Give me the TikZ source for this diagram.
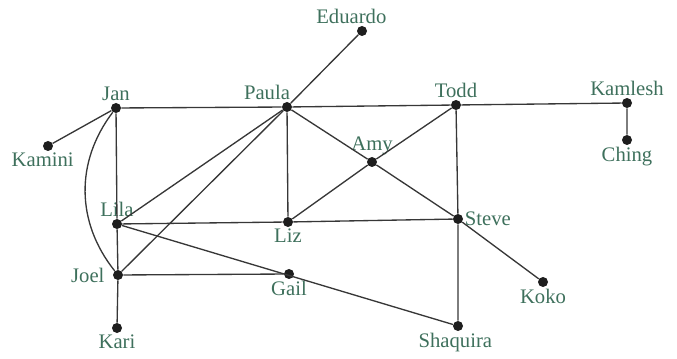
\documentclass[tikz,border=0pt]{standalone}
\usepackage{fontspec}
\setmainfont{Liberation Serif}
\begin{document}
\begin{tikzpicture}[x=0.75pt,y=-0.75pt,
    person/.style={circle,fill=dotgray,inner sep=0pt,minimum size=7.5pt},
    kante/.style={draw=linegray,line width=1pt},
    every label/.style={text=namegreen,inner sep=1pt,
        font=\fontsize{15.5}{17}\selectfont},
    blass/.style={every label/.append style={text=palegreen}}]

    % Farben
    \definecolor{namegreen}{RGB}{62,112,92}
    \definecolor{palegreen}{RGB}{112,160,140}
    \definecolor{dotgray}{RGB}{30,30,30}
    \definecolor{linegray}{RGB}{55,55,55}

    % Rahmen
    \useasboundingbox (0,0) rectangle (677,359);

    % Personen
    \node[person,label={[xshift=-8pt]above:Eduardo}] (eduardo) at (362,31) {};
    \node[person,label={above:Jan}]                  (jan)     at (116,108) {};
    \node[person,label={[xshift=-15pt]above:Paula}]  (paula)   at (287,107) {};
    \node[person,label={above:Todd}]                 (todd)    at (456,105) {};
    \node[person,blass,label={above:Kamlesh}]        (kamlesh) at (627,103) {};
    \node[person,blass,label={below:Ching}]          (ching)   at (627,140) {};
    \node[person,label={[xshift=-4pt]below:Kamini}]  (kamini)  at (48,146) {};
    \node[person,label={above:Amy}]                  (amy)     at (372,162) {};
    \node[person,label={above:Lila}]                 (lila)    at (117,224) {};
    \node[person,label={below:Liz}]                  (liz)     at (288,222) {};
    \node[person,label={right:Steve}]                (steve)   at (458,219) {};
    \node[person,label={[xshift=-5pt]left:Joel}]     (joel)    at (118,275) {};
    \node[person,label={below:Gail}]                 (gail)    at (289,274) {};
    \node[person,label={below:Koko}]                 (koko)    at (543,282) {};
    \node[person,label={below:Kari}]                 (kari)    at (117,328) {};
    \node[person,label={[xshift=-2pt]below:Shaquira}] (shaquira) at (458,326) {};

    % Verbindungen
    \draw[kante] (jan) -- (paula) -- (todd) -- (kamlesh) -- (ching);
    \draw[kante] (jan) -- (kamini);
    \draw[kante] (jan) -- (lila) -- (joel) -- (kari);
    \draw[kante] (jan) to[bend right=38] (joel);
    \draw[kante] (paula) -- (eduardo);
    \draw[kante] (paula) -- (liz);
    \draw[kante] (paula) -- (amy) -- (steve) -- (koko);
    \draw[kante] (todd) -- (amy) -- (liz);
    \draw[kante] (todd) -- (steve) -- (shaquira);
    \draw[kante] (lila) -- (liz) -- (steve);
    \draw[kante] (lila) -- (paula);
    \draw[kante] (joel) -- (paula);
    \draw[kante] (joel) -- (gail);
    \draw[kante] (lila) -- (shaquira);

\end{tikzpicture}
\end{document}
